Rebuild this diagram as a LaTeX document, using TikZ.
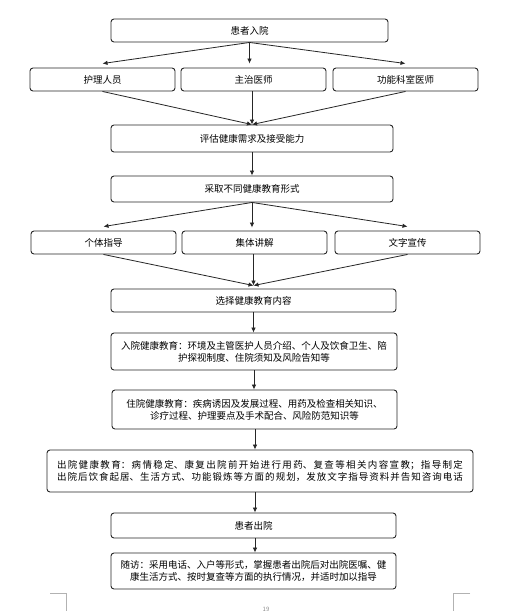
\documentclass[tikz,border=0pt]{standalone}
\usepackage{fontspec}
\setmainfont{Noto Sans CJK SC}
\usetikzlibrary{arrows.meta,calc}
\XeTeXlinebreaklocale "zh"
\XeTeXlinebreakskip=0pt plus 2pt
\begin{document}
\begin{tikzpicture}[x=1pt,y=-1pt,
  box/.style={draw=black!85,line width=0.9pt,rounded corners=3pt,inner sep=0pt,
    font=\fontsize{9.5pt}{12pt}\selectfont,align=center},
  arr/.style={draw=black!85,line width=0.8pt,-{Latex[length=5pt,width=4.5pt]}},
  crop/.style={draw=black!30,line width=0.6pt}]
\useasboundingbox[fill=white] (0,0) rectangle (526,611);
\node[box,minimum width=277pt,minimum height=23pt] (b1) at (249.5,30.5) {患者入院};
\node[box,minimum width=145pt,minimum height=23pt] (r2a) at (102.5,79.5) {护理人员};
\node[box,minimum width=145pt,minimum height=23pt] (r2b) at (253.5,79.5) {主治医师};
\node[box,minimum width=145pt,minimum height=23pt] (r2c) at (405.5,79.5) {功能科室医师};
\node[box,minimum width=282pt,minimum height=27pt] (b3) at (252,138.5) {评估健康需求及接受能力};
\node[box,minimum width=282pt,minimum height=26pt] (b4) at (252,189) {采取不同健康教育形式};
\node[box,minimum width=145pt,minimum height=23pt] (r5a) at (103.5,242.5) {个体指导};
\node[box,minimum width=145pt,minimum height=23pt] (r5b) at (254.5,242.5) {集体讲解};
\node[box,minimum width=145pt,minimum height=23pt] (r5c) at (407.5,242.5) {文字宣传};
\node[box,minimum width=285pt,minimum height=23pt] (b6) at (253.5,300.5) {选择健康教育内容};
\node[box,minimum width=286pt,minimum height=37pt] (b7) at (254,351.5) {入院健康教育：环境及主管医护人员介绍、个人及饮食卫生、陪\\护探视制度、住院须知及风险告知等};
\node[box,minimum width=285pt,minimum height=39pt] (b8) at (254.5,409.5) {住院健康教育：疾病诱因及发展过程、用药及检查相关知识、\\诊疗过程、护理要点及手术配合、风险防范知识等};
\node[box,minimum width=426pt,minimum height=42pt,text width=406pt,align=justify] (b9) at (260,471) {出院健康教育：病情稳定、康复出院前开始进行用药、复查等相关内容宣教；指导制定\linebreak 出院后饮食起居、生活方式、功能锻炼等方面的规划，发放文字指导资料并告知咨询电话\parfillskip=0pt\par};
\node[box,minimum width=285pt,minimum height=25pt] (b10) at (253.5,525.5) {患者出院};
\node[box,minimum width=285pt,minimum height=36pt] (b11) at (253.5,571) {随访：采用电话、入户等形式，掌握患者出院后对出院医嘱、健\\康生活方式、按时复查等方面的执行情况，并适时加以指导};
% arrows
\draw[arr] (b1.south) -- ([yshift=4pt]r2a.north);
\draw[arr] (b1.south) -- ([yshift=4pt]r2b.north -| b1.south);
\draw[arr] (b1.south) -- ([yshift=4pt]r2c.north);
\draw[arr] (r2a.south) -- (b3.north);
\draw[arr] (r2b.south -| b3.north) -- (b3.north);
\draw[arr] (r2c.south) -- (b3.north);
\draw[arr] (b3.south) -- (b4.north);
\draw[arr] (b4.south) -- ([yshift=4pt]r5a.north);
\draw[arr] (b4.south) -- ([yshift=3pt]r5b.north -| b4.south);
\draw[arr] (b4.south) -- ([yshift=4pt]r5c.north);
\draw[arr] (r5a.south) -- ([yshift=3pt]b6.north);
\draw[arr] (r5b.south -| b6.north) -- ([yshift=3pt]b6.north);
\draw[arr] (r5c.south) -- ([yshift=3pt]b6.north);
\draw[arr] (b6.south) -- (b6.south |- b7.north);
\draw[arr] (b7.south) -- (b7.south |- b8.north);
\coordinate (v9) at (255,0);
\draw[arr] (v9 |- b8.south) -- (v9 |- b9.north);
\draw[arr] (v9 |- b9.south) -- (v9 |- b10.north);
\draw[arr] (v9 |- b10.south) -- (v9 |- b11.north);
% page crop marks and number
\draw[crop] (50,593) -- (66,593) -- (66,611);
\draw[crop] (470,593) -- (453,593) -- (453,611);
\node[text=black!45,font=\fontsize{6pt}{7pt}\selectfont,inner sep=0pt] (pn) at (266,609) {19};
\end{tikzpicture}
\end{document}
